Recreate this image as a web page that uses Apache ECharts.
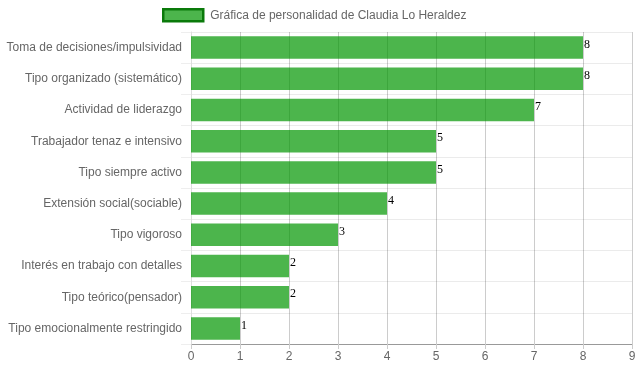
<!DOCTYPE html>
<html><head><meta charset="utf-8">
<script src="https://cdn.jsdelivr.net/npm/echarts@6/dist/echarts.min.js"></script>
<style>html,body{margin:0;padding:0;background:#fff}#c{width:639px;height:372px}</style>
</head><body><div id="c"></div>
<script>
const categories = ["Toma de decisiones/impulsividad","Tipo organizado (sistemático)","Actividad de liderazgo","Trabajador tenaz e intensivo","Tipo siempre activo","Extensión social(sociable)","Tipo vigoroso","Interés en trabajo con detalles","Tipo teórico(pensador)","Tipo emocionalmente restringido"];
const values = [8,8,7,5,5,4,3,2,2,1];
const seriesName = "Gráfica de personalidad de Claudia Lo Heraldez";
const xTicks = [0,9,1];
const chart = echarts.init(document.getElementById('c'));
chart.setOption({
  animation:false,
  textStyle:{fontFamily:'Liberation Sans, Arial, sans-serif'},
  legend:{top:3,left:157,itemWidth:40,itemHeight:12,itemGap:10,icon:'rect',
    textStyle:{color:'#666',fontSize:12,padding:[0,0,0,2],fontFamily:'Liberation Sans, Arial, sans-serif'},
    data:[{name:seriesName,icon:'rect',itemStyle:{color:'rgba(76,181,76,1)',borderColor:'#0a7a0a',borderWidth:2.5}}]},
  grid:{left:191,right:7,top:32,bottom:28,containLabel:false},
  xAxis:{type:'value',min:xTicks[0],max:xTicks[1],interval:xTicks[2],
    axisLine:{show:true,lineStyle:{color:'#999'}},
    axisTick:{show:true,length:5,lineStyle:{color:'#ccc'}},
    axisLabel:{color:'#666',fontSize:12,margin:7},
    splitLine:{show:true,lineStyle:{color:'rgba(0,0,0,0.2)'}}},
  yAxis:{type:'category',inverse:true,data:categories,
    axisLine:{show:true,lineStyle:{color:'#ddd'}},
    axisTick:{show:true,length:10,lineStyle:{color:'#eee'}},
    axisLabel:{color:'#666',fontSize:12,margin:9},
    splitLine:{show:true,lineStyle:{color:'#ebebeb'}}},
  series:[{name:seriesName,type:'bar',data:values,barWidth:'72%',
    itemStyle:{color:'rgba(0,150,0,0.7)'},
    label:{show:true,position:'right',distance:1,offset:[0,-3],color:'#000',fontSize:12,fontFamily:'Liberation Serif, Times New Roman, serif'}}]
});
</script></body></html>
